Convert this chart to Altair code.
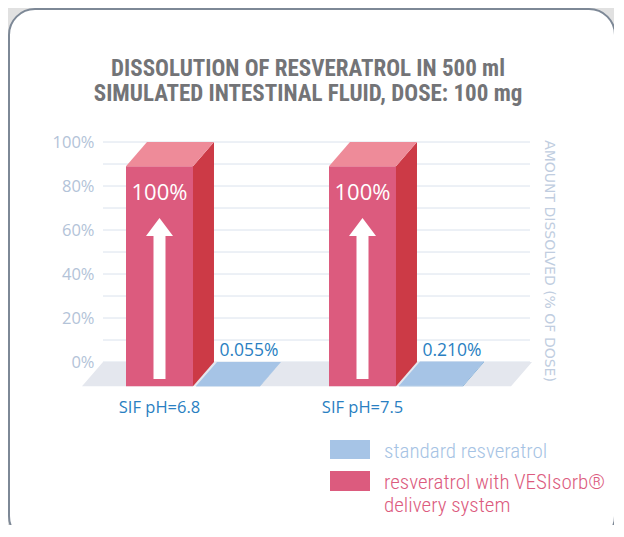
import altair as alt
import pandas as pd

# ---------------- data ----------------
categories = ["SIF pH=6.8", "SIF pH=7.5"]
series = ["resveratrol with VESIsorb® delivery system", "standard resveratrol"]
vesisorb_values = [100.0, 100.0]
standard_values = [0.055, 0.210]
vesisorb_labels = ["100%", "100%"]
standard_labels = ["0.055%", "0.210%"]
y_tick_values = [0, 20, 40, 60, 80, 100]
grid_values = [0, 10, 20, 30, 40, 50, 60, 70, 80, 90, 100]
title_lines = ["DISSOLUTION OF RESVERATROL IN 500 ml",
               "SIMULATED INTESTINAL FLUID, DOSE: 100 mg"]
y_title = "AMOUNT DISSOLVED (% OF DOSE)"
legend_texts = ["standard resveratrol", "resveratrol with VESIsorb®|delivery system"]

# ---------------- style / geometry ----------------
RED_FRONT, RED_TOP, RED_SIDE = "#dc5b7e", "#ee8b99", "#cc3a46"
BLUE_FRONT, BLUE_TOP, BLUE_SIDE = "#6a9fd3", "#a6c4e6", "#1f7cc1"
XMIN, XMAX = -0.2167, 1.8867
DX, DY = 0.1034, 11.0          # 3-D depth offset (x units, % units)
RED_W, GAP, BLUE_W = 0.33, 0.015, 0.315
W, H = 427, 220
SANS = "Open Sans, Lato, DejaVu Sans"
NARROW = "Roboto Condensed, Liberation Sans Narrow, DejaVu Sans Condensed, Roboto"

# ---------------- tables ----------------
bars = []
for i, cat in enumerate(categories):
    bars.append(dict(cat=cat, series=series[0], v=vesisorb_values[i], a=i, b=i + RED_W,
                     label=vesisorb_labels[i]))
    bars.append(dict(cat=cat, series=series[1], v=standard_values[i], a=i + RED_W + GAP,
                     b=i + RED_W + GAP + BLUE_W, label=standard_labels[i]))
for k, r in enumerate(bars):
    r["bar"] = k
bars_df = pd.DataFrame(bars)

front = bars_df.assign(x=bars_df.a - DX, x2=bars_df.b - DX, y=-DY, y2=bars_df.v - DY)
side_rows, top_rows = [], []
for r in bars:
    side_rows.append(dict(bar=r["bar"], series=r["series"], x=r["b"] - DX, y=-DY, y2=r["v"] - DY))
    side_rows.append(dict(bar=r["bar"], series=r["series"], x=r["b"], y=0.0, y2=r["v"]))
    top_rows.append(dict(bar=r["bar"], series=r["series"], y=r["v"] - DY, x=r["a"] - DX, x2=r["b"] - DX))
    top_rows.append(dict(bar=r["bar"], series=r["series"], y=r["v"], x=r["a"], x2=r["b"]))
side = pd.DataFrame(side_rows)
top = pd.DataFrame(top_rows)
floor = pd.DataFrame([dict(y=-DY, x=XMIN - DX, x2=XMAX + 0.01 - DX),
                      dict(y=0.0, x=XMIN, x2=XMAX + 0.01)])
grid = pd.DataFrame({"g": grid_values})

red = bars_df[bars_df.series == series[0]].copy()
red["cx"] = (red.a + red.b) / 2 - DX
red["front_top"] = red.v - DY
red["shaft_lo"] = -DY + 3.3
red["shaft_hi"] = red.v - DY - 31.5
red["head"] = red.v - DY - 27.6
blue = bars_df[bars_df.series == series[1]].copy()
blue["cx"] = (blue.a + blue.b) / 2
cats = pd.DataFrame({"cat": categories, "cx": red.cx.values, "y": -DY})

xs = alt.Scale(domain=[XMIN, XMAX], nice=False, zero=False)
ys = alt.Scale(domain=[0, 100], nice=False, zero=False)
y_axis = alt.Axis(values=y_tick_values, labelExpr="datum.value + '%'", grid=False,
                  ticks=False, domain=False, labelPadding=9, labelFontSize=16.5,
                  labelColor="#b3c3d8", labelFont=SANS, title=None, zindex=1)


def X(f):
    return alt.X(f, type="quantitative", scale=xs, axis=None)


def Y(f):
    return alt.Y(f, type="quantitative", scale=ys, axis=y_axis)


is_std = alt.datum.series == series[1]

panel = alt.Chart(pd.DataFrame({"p": [0]})).mark_rect(
    fill="white", stroke="#7d8896", strokeWidth=2, cornerRadius=26
).encode(x=alt.value(-94), x2=alt.value(512), y=alt.value(-133), y2=alt.value(400))

grid_layer = alt.Chart(grid).mark_rule(color="#dae2ed", strokeWidth=1).encode(y=Y("g"))

floor_layer = alt.Chart(floor).mark_area(orient="horizontal", color="#e4e7ee").encode(
    y=Y("y"), x=X("x"), x2="x2"
)

front_layer = alt.Chart(front).mark_rect().encode(
    x=X("x"), x2="x2", y=Y("y"), y2="y2",
    color=alt.Color("series:N", scale=alt.Scale(domain=series, range=[RED_FRONT, BLUE_FRONT]),
                    legend=None),
)
side_layer = alt.Chart(side).mark_area(orient="vertical").encode(
    x=X("x"), y=Y("y"), y2="y2", detail="bar:N",
    fill=alt.condition(is_std, alt.value(BLUE_SIDE), alt.value(RED_SIDE)),
)
top_layer = alt.Chart(top).mark_area(orient="horizontal").encode(
    y=Y("y"), x=X("x"), x2="x2", detail="bar:N",
    fill=alt.condition(is_std, alt.value(BLUE_TOP), alt.value(RED_TOP)),
)

shaft = alt.Chart(red).mark_rule(color="white", strokeWidth=12, strokeCap="butt").encode(
    x=X("cx"), y=Y("shaft_lo"), y2="shaft_hi"
)
head = alt.Chart(red).mark_point(
    shape="M-1,0.667L1,0.667L0,-0.667Z", size=729, filled=True, fill="white",
    strokeWidth=0, opacity=1
).encode(x=X("cx"), y=Y("head"))
red_text = alt.Chart(red).mark_text(
    color="white", fontSize=22, font=SANS, fontWeight=500, baseline="middle", dy=27
).encode(x=X("cx"), y=Y("front_top"), text="label:N")
blue_text = alt.Chart(blue).mark_text(
    color="#2a7fc2", fontSize=17.5, font=SANS, baseline="middle", dy=-11
).encode(x=X("cx"), y=Y("v"), text="label:N")
cat_text = alt.Chart(cats).mark_text(
    color="#2a7fc2", fontSize=16.5, font=SANS, baseline="middle", dy=22
).encode(x=X("cx"), y=Y("y"), text="cat:N")

right_title = alt.Chart(pd.DataFrame({"t": [y_title]})).mark_text(
    angle=90, color="#c0cde0", fontSize=14, font="DejaVu Sans", baseline="middle", align="center"
).encode(x=alt.value(446), y=alt.value(119), text="t:N")

title_df = pd.DataFrame({"t": title_lines, "yy": [-66, -41]})
title_layer = alt.Chart(title_df).mark_text(
    font=NARROW, fontSize=23, fontWeight="bold", color="#737477",
    align="center", baseline="alphabetic"
).encode(x=alt.value(205), y=alt.Y("yy:Q", scale=None, axis=None), text="t:N")

leg_df = pd.DataFrame({"series": [series[1], series[0]], "text": legend_texts})
leg_blue_sq = alt.Chart(leg_df.iloc[[0]]).mark_rect(color=BLUE_TOP).encode(
    x=alt.value(227), x2=alt.value(267), y=alt.value(298), y2=alt.value(317))
leg_red_sq = alt.Chart(leg_df.iloc[[1]]).mark_rect(color=RED_FRONT).encode(
    x=alt.value(227), x2=alt.value(267), y=alt.value(329), y2=alt.value(349))
leg_blue_tx = alt.Chart(leg_df.iloc[[0]]).mark_text(
    align="left", baseline="alphabetic", fontSize=21, font=NARROW, fontWeight=300,
    color="#a6c3e4"
).encode(x=alt.value(281), y=alt.value(316), text="text:N")
leg_red_tx = alt.Chart(leg_df.iloc[[1]]).mark_text(
    align="left", baseline="alphabetic", fontSize=21, font=NARROW, fontWeight=300,
    color=RED_FRONT, lineBreak="|", lineHeight=22.5
).encode(x=alt.value(281), y=alt.value(347), text="text:N")

chart = alt.layer(
    panel, grid_layer, floor_layer, front_layer, side_layer, top_layer,
    shaft, head, red_text, blue_text, cat_text, right_title, title_layer,
    leg_blue_sq, leg_red_sq, leg_blue_tx, leg_red_tx,
).properties(
    width=W, height=H,
    autosize=alt.AutoSizeParams(type="none"),
    padding={"left": 95, "top": 134, "right": 84, "bottom": 163},
    background="#e1e1e1",
).configure_view(stroke=None)

chart.save("out.html", embed_options={"renderer": "svg", "actions": False})
